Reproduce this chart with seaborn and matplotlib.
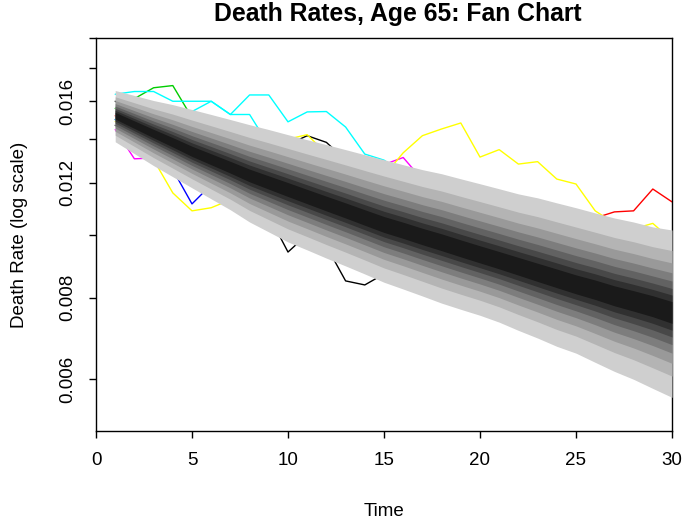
import numpy as np
import pandas as pd
import matplotlib
matplotlib.use("Agg")
import matplotlib.pyplot as plt
from matplotlib.ticker import FixedLocator, FixedFormatter, NullLocator
import seaborn as sns

# ---------------- data ----------------
time = list(range(1, 31))

# fan chart: median and outer (widest) bounds of the forecast distribution
median = [0.01521, 0.01473, 0.01427, 0.01383, 0.01339, 0.01302, 0.01266, 0.01230, 0.01200, 0.01171,
          0.01142, 0.01114, 0.01087, 0.01060, 0.01034, 0.01013, 0.00991, 0.00971, 0.00950, 0.00930,
          0.00911, 0.00892, 0.00873, 0.00855, 0.00837, 0.00822, 0.00805, 0.00791, 0.00777, 0.00760]
upper = [0.01662, 0.01633, 0.01604, 0.01581, 0.01554, 0.01527, 0.01500, 0.01473, 0.01448, 0.01422,
         0.01397, 0.01373, 0.01349, 0.01325, 0.01302, 0.01279, 0.01257, 0.01239, 0.01217, 0.01196,
         0.01175, 0.01154, 0.01138, 0.01118, 0.01099, 0.01079, 0.01060, 0.01045, 0.01027, 0.01016]
lower = [0.01387, 0.01330, 0.01275, 0.01226, 0.01179, 0.01134, 0.01091, 0.01045, 0.01009, 0.00974,
         0.00947, 0.00920, 0.00895, 0.00870, 0.00845, 0.00825, 0.00805, 0.00785, 0.00768, 0.00752,
         0.00734, 0.00713, 0.00694, 0.00674, 0.00658, 0.00637, 0.00617, 0.00600, 0.00581, 0.00563]
# relative position of each nested band edge (share of the outer half-width, log scale)
band_share = [0.13, 0.21, 0.29, 0.38, 0.48, 0.60, 0.75, 1.00]
band_colors = ["#1a1a1a", "#303030", "#484848", "#626262", "#7d7d7d", "#999999", "#b4b4b4", "#cfcfcf"]

# simulated paths
path_black_a = [0.01600, 0.0154, 0.0150, 0.0145, 0.0141, 0.0137, 0.0134, 0.0131, 0.0128, 0.01373,
                0.01417, 0.01384, 0.0130, 0.0126, 0.0122, 0.0119, 0.0116, 0.0113, 0.0110, 0.0107,
                0.0104, 0.0101, 0.0098, 0.0096, 0.0094, 0.0092, 0.0090, 0.0088, 0.0086, 0.0084]
path_red = [0.0152, 0.0147, 0.0143, 0.0138, 0.0134, 0.0130, 0.0127, 0.0123, 0.0120, 0.0117,
            0.0114, 0.0111, 0.0109, 0.0106, 0.0104, 0.0102, 0.0100, 0.0098, 0.0096, 0.0094,
            0.0092, 0.0091, 0.0091, 0.0092, 0.0095, 0.01060, 0.01083, 0.01087, 0.01174, 0.01122]
path_green = [0.01560, 0.01615, 0.01678, 0.01691, 0.01510, 0.0146, 0.0141, 0.0137, 0.0133, 0.0129,
              0.0126, 0.0122, 0.0118, 0.0115, 0.0112, 0.0109, 0.0106, 0.0103, 0.0100, 0.0098,
              0.0095, 0.0093, 0.0090, 0.0088, 0.0086, 0.0084, 0.0082, 0.0080, 0.0078, 0.0076]
path_blue = [0.0150, 0.0144, 0.0136, 0.01257, 0.01114, 0.01192, 0.0117, 0.0114, 0.0112, 0.0109,
             0.0107, 0.0104, 0.0101, 0.0099, 0.0096, 0.0094, 0.0092, 0.0089, 0.0087, 0.0085,
             0.0083, 0.0081, 0.0079, 0.0077, 0.0075, 0.0073, 0.0071, 0.0070, 0.0068, 0.0067]
path_cyan_a = [0.01640, 0.01656, 0.01656, 0.01600, 0.01600, 0.01600, 0.01527, 0.01636, 0.01636, 0.01488,
               0.01541, 0.01543, 0.01461, 0.01328, 0.01300, 0.0124, 0.0121, 0.0117, 0.0113, 0.0110,
               0.0107, 0.0104, 0.0101, 0.0099, 0.0096, 0.0094, 0.0092, 0.0090, 0.0088, 0.0086]
path_magenta = [0.01448, 0.01306, 0.0131, 0.0130, 0.0128, 0.0126, 0.0124, 0.0122, 0.0120, 0.0118,
                0.0117, 0.0116, 0.0115, 0.0118, 0.01280, 0.01312, 0.01213, 0.0117, 0.0113, 0.0110,
                0.0107, 0.0104, 0.0101, 0.0098, 0.0095, 0.0092, 0.0090, 0.0088, 0.0086, 0.0084]
path_yellow = [0.0149, 0.0140, 0.01302, 0.01158, 0.01087, 0.01099, 0.0113, 0.0122, 0.0132, 0.01400,
               0.01422, 0.0133, 0.0127, 0.0125, 0.0123, 0.01334, 0.01417, 0.01451, 0.01482, 0.01314,
               0.01349, 0.01282, 0.01293, 0.01216, 0.01195, 0.01087, 0.0104, 0.0102, 0.01040, 0.0098]
path_black_b = [0.0147, 0.0141, 0.0136, 0.0131, 0.0127, 0.0122, 0.0118, 0.0114, 0.01070, 0.00940,
                0.0100, 0.00960, 0.00849, 0.00837, 0.00870, 0.0086, 0.0084, 0.0082, 0.0080, 0.0078,
                0.0076, 0.0074, 0.0072, 0.0071, 0.0069, 0.0068, 0.0066, 0.0065, 0.0063, 0.0062]
path_cyan_b = [0.0150, 0.0146, 0.0142, 0.0140, 0.01543, 0.01600, 0.01527, 0.01527, 0.01370, 0.0132,
               0.0128, 0.0124, 0.0120, 0.0116, 0.0112, 0.0108, 0.0105, 0.0102, 0.0099, 0.0096,
               0.0093, 0.0090, 0.0088, 0.0085, 0.0083, 0.0081, 0.0079, 0.0077, 0.0075, 0.0073]

path_names = ["p1", "p2", "p3", "p4", "p5", "p6", "p7", "p8", "p9"]
path_values = [path_black_a, path_red, path_green, path_blue, path_cyan_a,
               path_magenta, path_yellow, path_black_b, path_cyan_b]
path_colors = ["#000000", "#FF0000", "#00CD00", "#0000FF", "#00FFFF",
               "#FF00FF", "#FFFF00", "#000000", "#00FFFF"]

y_ticks = [0.006, 0.008, 0.010, 0.012, 0.014, 0.016, 0.018, 0.020]
y_tick_labels = ["0.006", "0.008", "", "0.012", "", "0.016", "", ""]
x_ticks = [0, 5, 10, 15, 20, 25, 30]

# ---------------- plot ----------------
sns.set_theme(style="white")
plt.rcParams["font.family"] = ["Liberation Sans", "DejaVu Sans"]

W, H = 685, 520
fig = plt.figure(figsize=(W / 100, H / 100), dpi=100)
L, R, T, B = 96, 672, 38, 431
ax = fig.add_axes([L / W, 1 - B / H, (R - L) / W, (B - T) / H])

df = pd.DataFrame({
    "time": np.tile(time, len(path_names)),
    "rate": np.concatenate(path_values),
    "series": np.repeat(path_names, len(time)),
})
sns.lineplot(data=df, x="time", y="rate", hue="series",
             palette=dict(zip(path_names, path_colors)), estimator=None,
             sort=False, legend=False, linewidth=1.0, ax=ax, zorder=2)

lm = np.log(np.array(median))
lu = np.log(np.array(upper))
ll = np.log(np.array(lower))
for share, col in sorted(zip(band_share, band_colors), key=lambda p: -p[0]):
    hi = np.exp(lm + share * (lu - lm))
    lo = np.exp(lm + share * (ll - lm))
    ax.fill_between(time, lo, hi, color=col, linewidth=0, zorder=3)

ax.set_yscale("log")
ax.set_xlim(0, 30)
ax.set_ylim(0.005, 0.020)
ax.yaxis.set_major_locator(FixedLocator(y_ticks))
ax.yaxis.set_major_formatter(FixedFormatter(y_tick_labels))
ax.yaxis.set_minor_locator(NullLocator())
ax.set_xticks(x_ticks)
ax.set_xticklabels([str(v) for v in x_ticks])

for lab in ax.get_yticklabels():
    lab.set_rotation(90)
    lab.set_va("center")

FS = 13.5
ax.tick_params(axis="both", which="major", direction="out", length=5, width=1,
               color="black", labelsize=FS, labelcolor="black", bottom=True, left=True)
ax.tick_params(axis="x", pad=10)
ax.tick_params(axis="y", pad=9)

for s in ax.spines.values():
    s.set_visible(True)
    s.set_color("black")
    s.set_linewidth(1.0)

ax.set_xlabel("Time", fontsize=FS, color="black")
ax.set_ylabel("Death Rate (log scale)", fontsize=FS, color="black")
ax.xaxis.label.set_va("center")
ax.yaxis.label.set_va("center")
ax.xaxis.set_label_coords(0.5, (B - 511) / (B - T))
ax.yaxis.set_label_coords((19 - L) / (R - L), 0.5)

fig.text(398 / W, 1 - 14 / H, "Death Rates, Age 65: Fan Chart",
         ha="center", va="center", fontsize=17.8, fontweight="bold", color="black")

fig.savefig("out.png", dpi=100, facecolor="white")
